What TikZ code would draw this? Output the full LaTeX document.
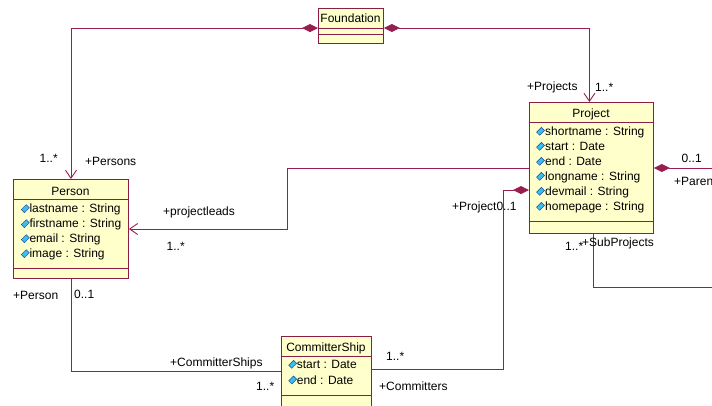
\documentclass[tikz,border=0pt]{standalone}
\usepackage{fontspec}
\setmainfont{Liberation Sans}
\usetikzlibrary{arrows.meta,calc}
\definecolor{umlline}{RGB}{150,30,80}
\definecolor{umlbox}{RGB}{255,255,204}
\definecolor{umlborder}{RGB}{140,30,70}
\definecolor{icofill}{RGB}{60,190,235}
\definecolor{icodraw}{RGB}{30,70,160}
\newcommand\attric[2]{\filldraw[fill=icofill,draw=icodraw,line width=0.5pt,rotate around={45:(#1,#2)}] (#1-3.4,#2-2.2) rectangle (#1+3.4,#2+2.2);}
\begin{document}
\begin{tikzpicture}[x=1pt,y=-1pt,
  font=\fontsize{12}{15}\selectfont,
  cls/.style={draw=umlborder, fill=umlbox, line width=0.9pt, inner sep=0pt, anchor=north west},
  sep/.style={draw=umlborder, line width=0.9pt},
  assoc/.style={draw=umlline, line width=0.9pt},
  compnav/.style={assoc, arrows={Diamond[length=16pt,width=8pt]-Straight Barb[length=8pt,width=11pt]}},
  comp/.style={assoc, arrows={Diamond[length=16pt,width=8pt]-}},
  navonly/.style={assoc, arrows={-Straight Barb[length=8pt,width=11pt]}},
  lbl/.style={text=black, inner sep=0pt, anchor=base west},
  nm/.style={text=black, inner sep=0pt, anchor=base}]
\useasboundingbox (0,0) rectangle (712,405);
\clip (0,0) rectangle (712,405);

% class boxes
\node[cls, minimum width=65pt, minimum height=35pt] (found) at (318,8) {};
\node[cls, minimum width=124pt, minimum height=131pt] (project) at (529,102) {};
\node[cls, minimum width=115pt, minimum height=99pt] (person) at (13,179) {};
\node[cls, minimum width=90pt, minimum height=74pt] (cs) at (281,336) {};
\foreach \b/\d in {found/20,found/26,project/20,project/119,person/20,person/89,cs/20,cs/59}
  \draw[sep] ([yshift=-\d pt]\b.north west) -- ([yshift=-\d pt]\b.north east);

% class names
\node[nm] (foundn) at (350.5,22) {Foundation};
\node[nm] (projectn) at (591,117.5) {Project};
\node[nm] (personn) at (70.5,195) {Person};
\node[nm] (csn) at (326,351) {CommitterShip};

% attributes
\foreach \t [count=\i from 0] in {shortname : String,start : Date,end : Date,longname : String,devmail : String,homepage : String}{
  \node[lbl] (pa\i) at (545,135.3+15*\i) {\t};
  \attric{540.5}{131.3+15*\i}
}
\foreach \t [count=\i from 0] in {lastname : String,firstname : String,email : String,image : String}{
  \node[lbl] (pe\i) at (29.3,212.7+15*\i) {\t};
  \attric{25.3}{208.7+15*\i}
}
\node[lbl] (ca0) at (296.7,368.3) {start : Date};
\attric{292.7}{364.3}
\node[lbl] (ca1) at (296.7,384) {end : Date};
\attric{292.7}{380}

% connectors
\draw[compnav] ([yshift=-20pt]found.north west) -| (person.north);
\draw[compnav] ([yshift=-20pt]found.north east) -| ([xshift=-2pt]project.north);
\coordinate (plA) at (287,168);
\coordinate (plB) at (287,229);
\draw[navonly] ([yshift=-66pt]project.north west) -- (plA) -- (plB) -- (person.east |- plB);
\draw[assoc] (person.south) |- ([yshift=-35pt]cs.north west);
\coordinate (cpA) at (503,369);
\draw[comp] ([yshift=-88pt]project.north west) -| (cpA) -- (cs.east |- cpA);
\coordinate (parentend) at (720,168);
\draw[comp] ([yshift=-66pt]project.north east) -- (parentend);
\coordinate (subend) at (720,287);
\draw[assoc] ([xshift=2pt]project.south) |- (subend);

% role and multiplicity labels
\node[lbl] (fp1) at (527,90.5) {+Projects};
\node[lbl] (fp2) at (595,91.5) {1..*};
\node[lbl] (pp1) at (681.5,162.5) {0..1};
\node[lbl] (pp2) at (674,185) {+Parent};
\node[lbl] (fpe1) at (39.5,162.5) {1..*};
\node[lbl] (fpe2) at (85,165) {+Persons};
\node[lbl] (plt1) at (163,215) {+projectleads};
\node[lbl] (plt2) at (166.5,250) {1..*};
\node[lbl] (pc1) at (13,299) {+Person};
\node[lbl] (pc2) at (74,298) {0..1};
\node[lbl] (pc3) at (170,366.5) {+CommitterShips};
\node[lbl] (pc4) at (256,390) {1..*};
\node[lbl] (cp1) at (386,360.5) {1..*};
\node[lbl] (cp2) at (379,390) {+Committers};
\node[lbl] (cp3) at (452,210) {+Project0..1};
\node[lbl] (sp1) at (565,250.5) {1..*};
\node[lbl] (sp2) at (582,246.5) {+SubProjects};
\end{tikzpicture}
\end{document}
